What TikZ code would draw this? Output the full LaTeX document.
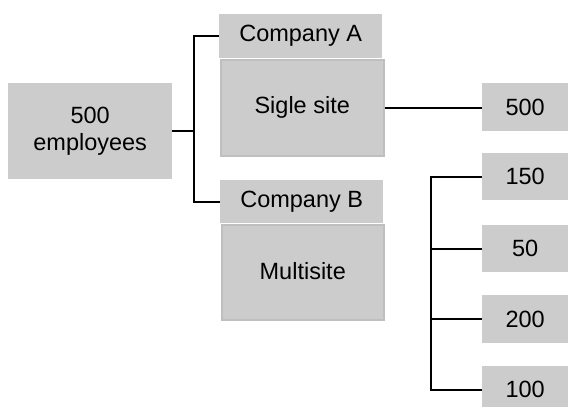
\documentclass[tikz,border=0pt]{standalone}
\usepackage{fontspec}
\setmainfont{Liberation Sans}
\definecolor{boxgray}{HTML}{CCCCCC}
\definecolor{edgegray}{HTML}{BFBFBF}
\begin{document}
\begin{tikzpicture}[x=1pt,y=-1pt,
  txt/.style={font=\fontsize{23.5}{27.5}\selectfont},
  plain/.style={txt,fill=boxgray,inner sep=0pt,anchor=north west},
  body/.style={plain,draw=edgegray,line width=1.5pt},
  conn/.style={draw=black,line width=1.6pt}]
\path[use as bounding box] (0,0) rectangle (568,407);
\clip (0,0) rectangle (568,407);
% left box
\node[plain,minimum width=164pt,minimum height=96pt,align=center] (emp) at (8,83) {500\\employees};
% Company A
\node[plain,minimum width=163pt,minimum height=44pt] (hA) at (219,14) {Company A};
\node[body,minimum width=163pt,minimum height=96pt] (bA) at (220,59) {\raisebox{4pt}{Sigle site}};
% Company B
\node[plain,minimum width=163pt,minimum height=43pt] (hB) at (220,180) {Company B};
\node[body,minimum width=162pt,minimum height=95pt] (bB) at (221,224) {\raisebox{2pt}{Multisite}};
% right boxes
\node[plain,minimum width=86pt,minimum height=48pt] (r500) at (482,83) {500};
\node[plain,minimum width=86pt,minimum height=47pt] (r150) at (482,153) {150};
\node[plain,minimum width=86pt,minimum height=47pt] (r50) at (482,225) {50};
\node[plain,minimum width=86pt,minimum height=48pt] (r200) at (482,295) {200};
\node[plain,minimum width=86pt,minimum height=47pt] (r100) at (482,366) {100};
% connectors
\coordinate (jA) at (194,0);
\coordinate (jB) at (431,0);
\draw[conn] (emp.east) -- (jA |- emp.east);
\draw[conn] (hA.west) -- (jA |- hA.west) -- (jA |- hB.west) -- (hB.west);
\draw[conn] (bA.east) -- (bA.east -| r500.west);
\draw[conn] (r150.west) -- (jB |- r150.west) -- (jB |- r100.west) -- (r100.west);
\draw[conn] (jB |- r50.west) -- (r50.west);
\draw[conn] (jB |- r200.west) -- (r200.west);
\end{tikzpicture}
\end{document}
